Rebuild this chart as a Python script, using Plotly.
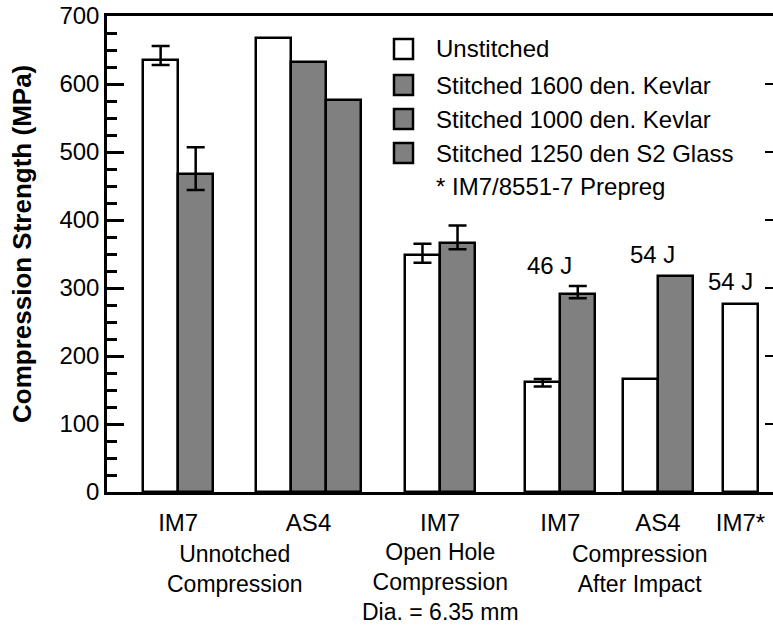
import plotly.graph_objects as go

# ---- data -------------------------------------------------------------
groups = ["Unnotched IM7", "Unnotched AS4", "Open Hole IM7",
          "CAI IM7", "CAI AS4", "CAI IM7*"]
tick_labels = ["IM7", "AS4", "IM7", "IM7", "AS4", "IM7*"]

unstitched = [636, 668, 349, 162, 166, 276]
kevlar_1600 = {"Unnotched IM7": 467, "Open Hole IM7": 366, "CAI IM7": 291}
kevlar_1000 = {"Unnotched AS4": 632, "CAI AS4": 318}
glass_s2 = {"Unnotched AS4": 577}

# error bars (upper, lower) in MPa
unstitched_err = {"Unnotched IM7": (20, 8), "Open Hole IM7": (16, 12), "CAI IM7": (4, 7)}
kevlar_1600_err = {"Unnotched IM7": (40, 23), "Open Hole IM7": (26, 9), "CAI IM7": (12, 6)}

energy_labels = ["46 J", "54 J", "54 J"]
energy_groups = ["CAI IM7", "CAI AS4", "CAI IM7*"]

series_names = ["Unstitched", "Stitched 1600 den. Kevlar",
                "Stitched 1000 den. Kevlar", "Stitched 1250 den S2 Glass"]
footnote = "* IM7/8551-7 Prepreg"
section_labels = ["Unnotched<br>Compression",
                  "Open Hole<br>Compression<br>Dia. = 6.35 mm",
                  "Compression<br>After Impact"]

# ---- layout constants -------------------------------------------------
W, H = 773, 628
L, R, T, B = 107, 0, 16, 136
PW, PH = W - L - R, H - T - B
X_MAX = 19.0                      # x axis in bar-width units
group_start = [1.03, 4.25, 8.50, 11.93, 14.72, 17.57]
FONT = "Liberation Sans, Arial, Helvetica, sans-serif"
FS = 24
GRAY = "#808080"
LW = 2.5


def px_x(px):
    return (px - L) / PW


def px_y(py):
    return (T + PH - py) / PH


# slot of each bar inside its group
slots = {}
for g, s in zip(groups, group_start):
    order = ["u"]
    if g in kevlar_1600:
        order.append("k16")
    if g in kevlar_1000:
        order.append("k10")
    if g in glass_s2:
        order.append("s2")
    slots[g] = {k: s + i + 0.5 for i, k in enumerate(order)}

fig = go.Figure()


def add_bars(key, values, name, fill):
    xs, ys = [], []
    for g, v in values:
        xs.append(slots[g][key])
        ys.append(v)
    fig.add_trace(go.Bar(
        x=xs, y=ys, width=1.0, name=name, showlegend=False,
        marker=dict(color=fill, line=dict(color="black", width=LW)),
    ))


add_bars("u", zip(groups, unstitched), series_names[0], "white")
add_bars("k16", kevlar_1600.items(), series_names[1], GRAY)
add_bars("k10", kevlar_1000.items(), series_names[2], GRAY)
add_bars("s2", glass_s2.items(), series_names[3], GRAY)

# error bars drawn on top of the bars
ex, ey, eplus, eminus = [], [], [], []
for key, vals, errs in [("u", dict(zip(groups, unstitched)), unstitched_err),
                        ("k16", kevlar_1600, kevlar_1600_err)]:
    for g, (up, dn) in errs.items():
        ex.append(slots[g][key])
        ey.append(vals[g])
        eplus.append(up)
        eminus.append(dn)
fig.add_trace(go.Scatter(
    x=ex, y=ey, mode="markers", marker=dict(size=1, opacity=0),
    showlegend=False, hoverinfo="skip",
    error_y=dict(type="data", symmetric=False, array=eplus, arrayminus=eminus,
                 color="black", thickness=2.5, width=9),
))

# invisible trace so the right-hand tick axis is drawn
fig.add_trace(go.Scatter(x=[0], y=[0], yaxis="y2", mode="markers",
                         marker=dict(opacity=0), showlegend=False, hoverinfo="skip"))

group_center = [s + len(slots[g]) / 2 for g, s in zip(groups, group_start)]

fig.update_layout(
    width=W, height=H,
    margin=dict(l=L, r=R, t=T, b=B, pad=0),
    paper_bgcolor="white", plot_bgcolor="white",
    font=dict(family=FONT, size=FS, color="black"),
    showlegend=False,
    bargap=0,
    xaxis=dict(range=[0, X_MAX], showgrid=False, zeroline=False,
               showline=True, mirror=True, linecolor="black", linewidth=LW,
               tickmode="array", tickvals=group_center, ticktext=tick_labels,
               ticks="", ticklabelstandoff=7,
               tickfont=dict(family=FONT, size=FS)),
    yaxis=dict(range=[0, 700], showgrid=False, zeroline=False,
               showline=True, linecolor="black", linewidth=LW,
               tickmode="linear", tick0=0, dtick=100,
               ticks="inside", ticklen=17, tickwidth=2.5, tickcolor="black",
               minor=dict(dtick=25, ticks="inside", ticklen=10, tickwidth=2.5,
                          tickcolor="black", showgrid=False),
               ticklabelstandoff=0,
               tickfont=dict(family=FONT, size=FS)),
    yaxis2=dict(range=[0, 700], overlaying="y", side="right", anchor="x",
                showgrid=False, zeroline=False, showline=False,
                tickmode="linear", tick0=0, dtick=100,
                ticks="inside", ticklen=8, tickwidth=2, tickcolor="black",
                showticklabels=False),
)

# axis title
fig.add_annotation(x=px_x(22), y=px_y(244), xref="paper", yref="paper",
                   text="<b>Compression Strength (MPa)</b>", textangle=-90,
                   showarrow=False, font=dict(family=FONT, size=26),
                   xanchor="center", yanchor="middle")

# section labels under the categories
for txt, cx, cy in zip(section_labels, [3.65, 9.5, 15.2], [569, 582, 569]):
    fig.add_annotation(x=cx, y=px_y(cy), xref="x", yref="paper", text=txt,
                       showarrow=False, font=dict(family=FONT, size=23),
                       xanchor="center", yanchor="middle", borderpad=0)

# impact energy labels
energy_pos = {"CAI IM7": (12.61, 333), "CAI AS4": (15.55, 349), "CAI IM7*": (17.80, 310)}
for txt, g in zip(energy_labels, energy_groups):
    ax, ay = energy_pos[g]
    fig.add_annotation(x=ax, y=ay, xref="x", yref="y", text=txt, showarrow=False,
                       font=dict(family=FONT, size=FS),
                       xanchor="center", yanchor="middle")

# legend
rows_y = [49, 85, 119, 153]
fills = ["white", GRAY, GRAY, GRAY]
for name, ry, fill in zip(series_names, rows_y, fills):
    fig.add_shape(type="rect", xref="paper", yref="paper",
                  x0=px_x(394), x1=px_x(413), y0=px_y(ry - 10), y1=px_y(ry + 10),
                  fillcolor=fill, line=dict(color="black", width=LW))
    fig.add_annotation(x=px_x(434), y=px_y(ry), xref="paper", yref="paper",
                       text=name, showarrow=False, font=dict(family=FONT, size=FS),
                       xanchor="left", yanchor="middle")
fig.add_annotation(x=px_x(434), y=px_y(187), xref="paper", yref="paper",
                   text=footnote, showarrow=False, font=dict(family=FONT, size=FS),
                   xanchor="left", yanchor="middle")

fig.write_html("out.html")
